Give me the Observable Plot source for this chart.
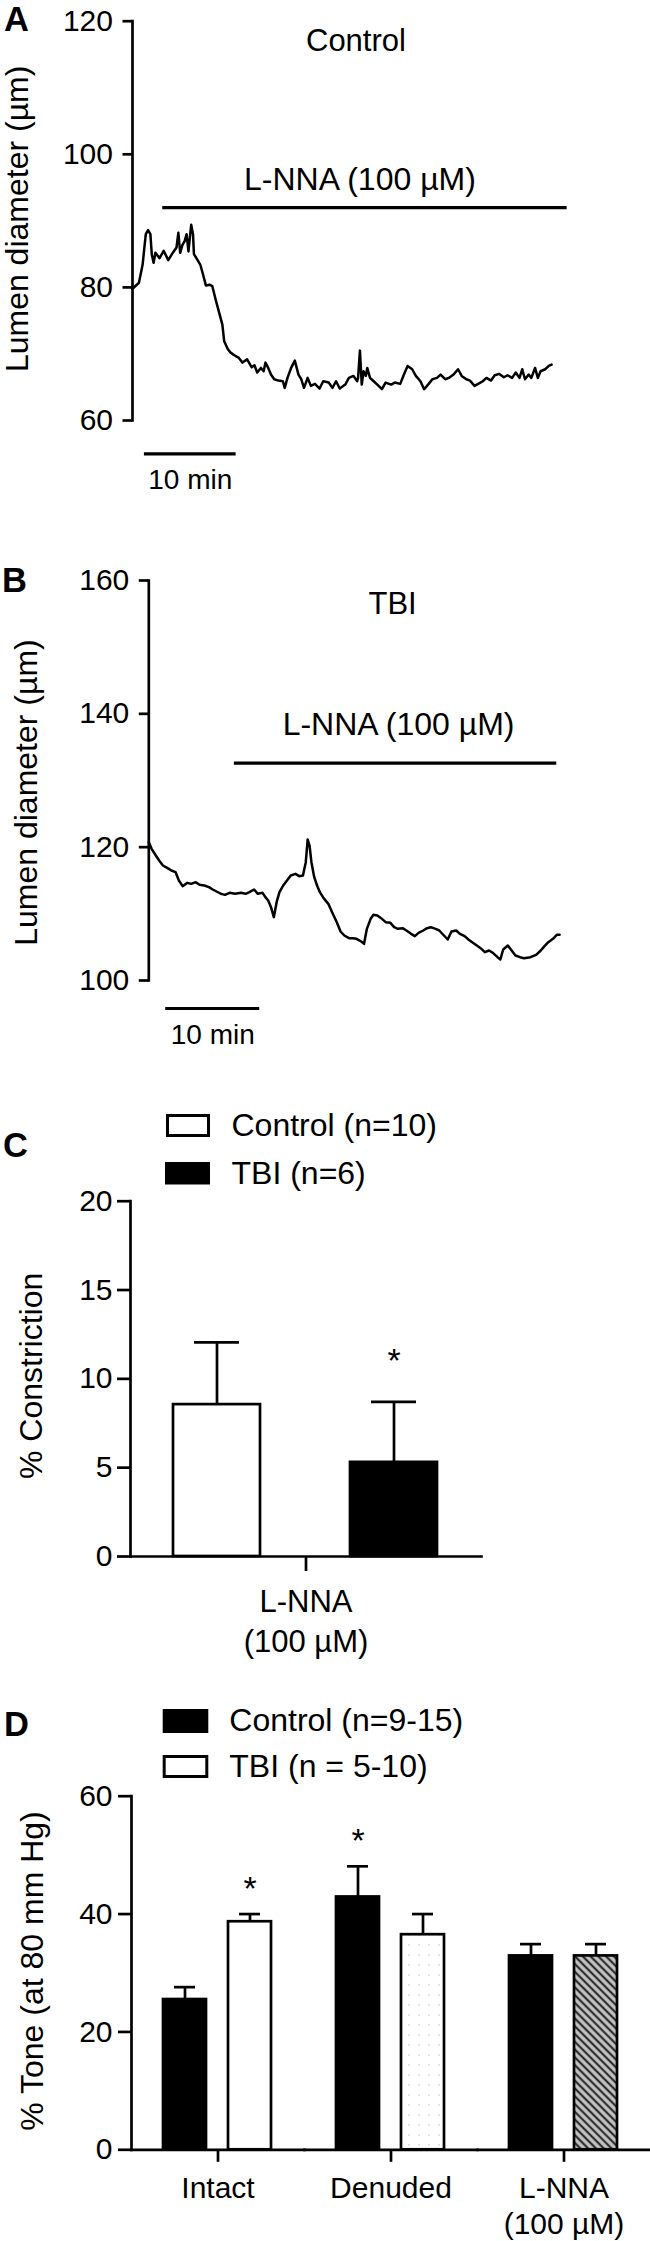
<!DOCTYPE html>
<html>
<head>
<meta charset="utf-8">
<script src="https://cdn.jsdelivr.net/npm/d3@7"></script>
<script src="https://cdn.jsdelivr.net/npm/@observablehq/plot@0.6"></script>
<style>
  body { margin: 0; background: #fff; }
  #root { position: relative; width: 650px; height: 2241px; overflow: hidden; background: #fff; }
</style>
</head>
<body>
<div id="root"></div>
<script>
// ---------------- DATA ----------------
// Panel A: Control vessel, lumen diameter (µm) vs time (min)
const traceControl = [[0,79.8],[0.7,80.7],[1.1,83.4],[1.45,88],[1.7,88.6],[1.95,88],[2.1,85],[2.3,83.7],[2.5,85.2],[2.95,84.4],[3.4,85.5],[3.9,84.1],[4.3,85],[4.8,86],[5.0,88.2],[5.2,85.2],[5.45,86.4],[5.7,87],[5.9,88],[6.1,85.4],[6.4,89.4],[6.6,88],[6.7,85],[7.05,84.2],[7.4,83.4],[7.7,81.9],[8.0,80.3],[8.4,80.4],[8.7,80.2],[9.1,78],[9.45,76.2],[9.8,74.4],[10.0,71.9],[10.4,70.7],[10.7,70.2],[11.1,69.8],[11.6,69.4],[12.0,68.7],[12.5,69.2],[13.0,68],[13.3,68.3],[13.6,67.2],[14.0,67.9],[14.3,67.4],[14.5,68.7],[14.8,67.9],[15.1,66.9],[15.45,66.2],[15.9,66],[16.4,65.9],[16.6,64.9],[16.9,66.4],[17.3,67.9],[17.7,69],[18.1,66.9],[18.4,66.2],[18.7,64.9],[19.1,66.4],[19.45,65.2],[19.9,65.5],[20.4,64.8],[20.8,65.9],[21.4,65.7],[21.8,64.9],[22.2,65.9],[22.6,64.8],[23.2,65.4],[23.6,66.4],[24.1,66.7],[24.5,65.9],[24.6,66.4],[24.8,70.5],[25.0,65.4],[25.2,67.4],[25.45,66.7],[25.6,67.9],[25.9,66.4],[26.3,65.9],[26.7,65.4],[27.2,64.7],[27.6,65.7],[28.2,65.4],[28.6,65.7],[29.2,65.5],[29.6,66.9],[30.0,68.2],[30.5,67.7],[30.9,66.7],[31.4,65.9],[31.8,64.7],[32.3,65.5],[32.7,66.2],[33.2,66.4],[33.6,66.9],[34.1,66.2],[34.5,66.4],[35.0,66.9],[35.5,67.7],[35.9,66.7],[36.4,66.2],[36.8,66],[37.3,65.2],[37.7,65.5],[38.2,65.9],[38.6,66.4],[39.1,66],[39.5,66.8],[40.0,67],[40.5,66.5],[40.9,66.8],[41.4,66.4],[41.8,67.2],[42.2,66.4],[42.5,67.7],[42.8,66.2],[43.2,66.9],[43.5,66.4],[43.9,67.9],[44.2,66.4],[44.5,67.4],[45.0,67.7],[45.4,68.2],[45.7,68.4]];
const lnnaWindowA = [3.3, 47.4];      // L-NNA application (min)
const scaleBarA = [1.3, 11.3];        // 10 min
const ticksA = [60, 80, 100, 120];

// Panel B: TBI vessel
const traceTBI = [[0,120.75],[0.3,119.75],[0.75,118.75],[1.1,118],[1.5,117.25],[2.0,116.85],[2.4,116.5],[2.85,116.25],[3.2,115],[3.6,114.15],[4.1,114.65],[4.5,114.5],[5.0,114.75],[5.4,114.35],[5.9,114.25],[6.4,114],[6.8,113.65],[7.2,113.35],[7.7,113],[8.1,112.85],[8.6,113.15],[9.2,113],[9.8,113.15],[10.3,113],[10.7,113.25],[11.2,113.65],[11.6,113],[12.1,113.15],[12.4,112.5],[12.7,112],[13.0,111],[13.3,109.5],[13.6,111.75],[13.9,113.25],[14.3,114.25],[14.7,115],[15.1,115.75],[15.6,116],[16.0,115.65],[16.4,115.75],[16.7,117.75],[16.9,121.15],[17.1,120.25],[17.3,117.75],[17.6,115.5],[17.9,114.25],[18.2,113.25],[18.6,112.35],[19.1,111.5],[19.5,110.25],[20.0,108.75],[20.4,107.35],[20.8,106.75],[21.3,106.35],[21.7,106.35],[22.1,106.25],[22.6,105.85],[22.9,105.5],[23.2,107.75],[23.6,109.25],[23.9,109.85],[24.3,109.75],[24.8,109.25],[25.2,108.75],[25.7,108.65],[26.1,108],[26.5,107.75],[27.0,107.85],[27.4,107.5],[27.9,107],[28.3,106.65],[28.7,107.15],[29.2,107.5],[29.6,107.85],[30.0,108],[30.5,107.75],[30.9,107.5],[31.4,106.75],[31.8,106.15],[32.2,107.35],[32.7,107.5],[33.1,107],[33.6,106.65],[34.0,106.15],[34.4,105.75],[34.9,105.25],[35.3,104.85],[35.75,104.25],[36.2,104.5],[36.6,104.15],[37.1,103.5],[37.4,103.15],[37.7,104.65],[38.2,105.25],[38.6,104.5],[39.0,103.75],[39.5,103.5],[39.9,103.35],[40.6,103.5],[41.2,103.85],[41.7,104.5],[42.1,105.15],[42.5,105.75],[43.0,106.25],[43.4,106.85],[43.7,106.85]];
const lnnaWindowB = [9.1, 43.4];
const scaleBarB = [1.8, 11.8];
const ticksB = [100, 120, 140, 160];

// Panel C: % constriction to L-NNA
const categoryC = "L-NNA (100 µM)";
const groupsC = ["Control", "TBI"];
const meanC = [8.55, 5.3];
const semC = [3.5, 3.4];
const sigC = [false, true];
const legendC = ["Control (n=10)", "TBI (n=6)"];
const ticksC = [0, 5, 10, 15, 20];

// Panel D: % tone at 80 mm Hg
const categoriesD = ["Intact", "Denuded", "L-NNA (100 µM)"];
const groupsD = ["Control", "TBI"];
const meanControlD = [25.5, 42.9, 32.9];
const semControlD = [2.1, 5.2, 2.0];
const meanTbiD = [38.7, 36.5, 32.9];
const semTbiD = [1.3, 3.5, 2.0];
const sigControlD = [false, true, false];
const sigTbiD = [true, false, false];
const legendD = ["Control (n=9-15)", "TBI (n = 5-10)"];
const ticksD = [0, 20, 40, 60];

// ---------------- RENDER ----------------
const FONT = "'Liberation Sans', Arial, Helvetica, sans-serif";
const root = document.getElementById("root");
const SW = 2.7;
const baseStyle = {fontFamily: FONT, fontSize: "30px", background: "transparent", color: "black", overflow: "visible"};

// shared defs (patterns)
const defsSvg = d3.create("svg").attr("width", 0).attr("height", 0).style("position", "absolute");
const defs = defsSvg.append("defs");
const dots = defs.append("pattern").attr("id", "dots").attr("patternUnits", "userSpaceOnUse").attr("width", 10).attr("height", 10);
dots.append("rect").attr("width", 10).attr("height", 10).attr("fill", "white");
dots.append("circle").attr("cx", 5).attr("cy", 5).attr("r", 0.8).attr("fill", "#c4c4c4");
const hatch = defs.append("pattern").attr("id", "hatch").attr("patternUnits", "userSpaceOnUse").attr("width", 5.5).attr("height", 5.5).attr("patternTransform", "rotate(-45)");
hatch.append("rect").attr("width", 5.5).attr("height", 5.5).attr("fill", "#c6c6c6");
hatch.append("line").attr("x1", 2.75).attr("x2", 2.75).attr("y1", -1).attr("y2", 6.5).attr("stroke", "#2e2e2e").attr("stroke-width", 2.3);
root.appendChild(defsSvg.node());

function place(el, top) {
  el.style.position = "absolute";
  el.style.left = "0px";
  el.style.top = top + "px";
  root.appendChild(el);
}

function tracePlot({trace, windowT, bar, ticks, yDomain, title, top, height, marginTop, marginBottom, marginLeft, pxPerMin, barLevel, barLevelScale, labelDx, labelDy, titleDy, titleDx, lnnaDy, lnnaDx}) {
  const rows = trace.map(([t, v]) => ({t, v}));
  const xMax = 50;
  const plot = Plot.plot({
    width: 650, height,
    marginTop, marginBottom, marginLeft,
    marginRight: 650 - marginLeft - xMax * pxPerMin,
    style: baseStyle,
    x: {domain: [0, xMax], axis: null},
    y: {domain: yDomain, axis: null},
    marks: [
      Plot.frame({anchor: "left", strokeWidth: SW}),
      Plot.axisY({ticks, tickSize: 9.5, tickPadding: 10, fontSize: 30, strokeWidth: SW, label: null}),
      Plot.text(["Lumen diameter (µm)"], {frameAnchor: "left", rotate: -90, textAnchor: "middle", lineAnchor: "middle", dx: labelDx, dy: labelDy, fontSize: 32}),
      Plot.line(rows, {x: "t", y: "v", strokeWidth: 2.5, strokeLinejoin: "round"}),
      // L-NNA application bar and label
      Plot.ruleY([windowT], {x1: d => d[0], x2: d => d[1], y: barLevel, strokeWidth: 3.2}),
      Plot.text([windowT], {x: d => (d[0] + d[1]) / 2, y: barLevel, text: () => "L-NNA (100 µM)", lineAnchor: "bottom", dy: lnnaDy, dx: lnnaDx, fontSize: 32}),
      // condition title
      Plot.text([title], {x: (windowT[0] + windowT[1]) / 2, frameAnchor: "top", text: d => d, lineAnchor: "bottom", dy: titleDy, dx: titleDx, fontSize: 31}),
      // 10-min scale bar
      Plot.ruleY([bar], {x1: d => d[0], x2: d => d[1], y: barLevelScale, strokeWidth: 3.2}),
      Plot.text([bar], {x: d => (d[0] + d[1]) / 2, y: barLevelScale, text: d => `${d[1] - d[0]} min`, lineAnchor: "bottom", dy: 35, fontSize: 28})
    ]
  });
  place(plot, top);
}

// Panel A
tracePlot({
  trace: traceControl, windowT: lnnaWindowA, bar: scaleBarA, ticks: ticksA, yDomain: [60, 120], title: "Control",
  top: 0, height: 500, marginTop: 20.7, marginBottom: 80, marginLeft: 132, pxPerMin: 9.17,
  barLevel: 92, barLevelScale: 55, labelDx: 17 - 132, labelDy: -2, titleDy: 29.3, titleDx: -9, lnnaDy: -17.3, lnnaDx: -5
});

// Panel B
tracePlot({
  trace: traceTBI, windowT: lnnaWindowB, bar: scaleBarB, ticks: ticksB, yDomain: [100, 160], title: "TBI",
  top: 500, height: 570, marginTop: 80, marginBottom: 90, marginLeft: 148.3, pxPerMin: 9.4,
  barLevel: 132.6, barLevelScale: 95.8, labelDx: 26 - 148.3, labelDy: 12, titleDy: 33, titleDx: -3, lnnaDy: -27.7, lnnaDx: 3
});

// Panel C
{
  const rows = groupsC.map((g, i) => ({category: categoryC, group: g, mean: meanC[i], sem: semC[i], sig: sigC[i]}));
  const fillC = {Control: "white", TBI: "black"};
  const plot = Plot.plot({
    width: 650, height: 600,
    marginTop: 130.7, marginBottom: 114, marginLeft: 130, marginRight: 169,
    style: baseStyle,
    fx: {domain: [categoryC], padding: 0, label: null},
    x: {domain: groupsC, paddingInner: 0.508, paddingOuter: 0.243, axis: null},
    y: {domain: [0, 20], axis: null},
    color: {type: "identity"},
    marks: [
      Plot.barY(rows, {fx: "category", x: "group", y: "mean", fill: d => fillC[d.group], stroke: "black", strokeWidth: SW}),
      Plot.ruleX(rows, {fx: "category", x: "group", y1: "mean", y2: d => d.mean + d.sem, strokeWidth: SW}),
      Plot.tickY(rows, {fx: "category", x: "group", y: d => d.mean + d.sem, insetLeft: 21, insetRight: 21, strokeWidth: SW}),
      Plot.text(rows.filter(d => d.sig), {fx: "category", x: "group", y: d => d.mean + d.sem, text: () => "*", lineAnchor: "bottom", dy: -30, fontSize: 34}),
      Plot.frame({anchor: "bottom", strokeWidth: SW}),
      Plot.frame({anchor: "left", facetAnchor: "left", strokeWidth: SW}),
      Plot.axisY({ticks: ticksC, tickSize: 13, tickPadding: 5, fontSize: 30, strokeWidth: SW, label: null}),
      Plot.axisFx({anchor: "bottom", tickSize: 15, tickPadding: 12, fontSize: 31, strokeWidth: SW, label: null, lineHeight: 1.3, tickFormat: d => d.replace(" (", "\n(")}),
      Plot.text(["% Constriction"], {frameAnchor: "left", facetAnchor: "left", rotate: -90, textAnchor: "middle", lineAnchor: "middle", dx: 31 - 130, dy: -3, fontSize: 32})
    ]
  });
  place(plot, 1070);
}

// Panel D
{
  const rows = categoriesD.flatMap((c, i) => [
    {category: c, group: "Control", mean: meanControlD[i], sem: semControlD[i], sig: sigControlD[i]},
    {category: c, group: "TBI", mean: meanTbiD[i], sem: semTbiD[i], sig: sigTbiD[i]}
  ]);
  const tbiFill = {"Intact": "white", "Denuded": "url(#dots)", "L-NNA (100 µM)": "url(#hatch)"};
  const plot = Plot.plot({
    width: 650, height: 571,
    marginTop: 125.7, marginBottom: 91.7, marginLeft: 130, marginRight: 0,
    style: baseStyle,
    fx: {domain: categoriesD, padding: 0, label: null},
    x: {domain: groupsD, paddingInner: 0.333, paddingOuter: 0.49, axis: null},
    y: {domain: [0, 60], axis: null},
    color: {type: "identity"},
    marks: [
      Plot.barY(rows, {fx: "category", x: "group", y: "mean", fill: d => d.group === "Control" ? "black" : tbiFill[d.category], stroke: "black", strokeWidth: SW}),
      Plot.ruleX(rows, {fx: "category", x: "group", y1: "mean", y2: d => d.mean + d.sem, strokeWidth: SW}),
      Plot.tickY(rows, {fx: "category", x: "group", y: d => d.mean + d.sem, insetLeft: 11, insetRight: 11, strokeWidth: SW}),
      Plot.text(rows.filter(d => d.sig), {fx: "category", x: "group", y: d => d.mean + d.sem, text: () => "*", lineAnchor: "bottom", dy: -14, fontSize: 34}),
      Plot.frame({anchor: "bottom", strokeWidth: SW}),
      Plot.frame({anchor: "left", facetAnchor: "left", strokeWidth: SW}),
      Plot.axisY({ticks: ticksD, tickSize: 13, tickPadding: 6, fontSize: 30, strokeWidth: SW, label: null}),
      Plot.axisFx({anchor: "bottom", tickSize: 12.5, tickPadding: 10, fontSize: 30, strokeWidth: SW, label: null, lineHeight: 1.2, tickFormat: d => d.replace(" (", "\n(")}),
      Plot.text(["% Tone (at 80 mm Hg)"], {frameAnchor: "left", facetAnchor: "left", rotate: -90, textAnchor: "middle", lineAnchor: "middle", dx: 31 - 130, dy: -2, fontSize: 32})
    ]
  });
  place(plot, 1670);
}

// ---------------- overlay: panel letters and legends ----------------
const ov = d3.create("svg").attr("width", 650).attr("height", 2241)
  .style("position", "absolute").style("left", "0px").style("top", "0px")
  .attr("font-family", FONT);
const letters = [["A", 4, 31], ["B", 2, 592], ["C", 3, 1157], ["D", 4, 1736]];
ov.selectAll("text.letter").data(letters).join("text").attr("class", "letter")
  .attr("x", d => d[1]).attr("y", d => d[2])
  .attr("font-size", 34.5).attr("font-weight", "bold").text(d => d[0]);

function legend(entries, boxes) {
  entries.forEach((label, i) => {
    const b = boxes[i];
    ov.append("rect").attr("x", b.x + 1.5).attr("y", b.y + 1.5).attr("width", b.w - 3).attr("height", b.h - 3)
      .attr("fill", b.fill).attr("stroke", "black").attr("stroke-width", 3);
    ov.append("text").attr("x", b.tx).attr("y", b.base).attr("font-size", 32).text(label);
  });
}
legend(legendC, [
  {x: 166, y: 1114, w: 44, h: 23, fill: "white", tx: 231.5, base: 1135.5},
  {x: 165, y: 1162, w: 45, h: 22.5, fill: "black", tx: 231.5, base: 1184}
]);
legend(legendD, [
  {x: 162.7, y: 1709, w: 45.6, h: 24, fill: "black", tx: 229.3, base: 1730.5},
  {x: 162.7, y: 1755, w: 45.6, h: 23, fill: "white", tx: 229.3, base: 1776.5}
]);
root.appendChild(ov.node());
</script>
</body>
</html>
